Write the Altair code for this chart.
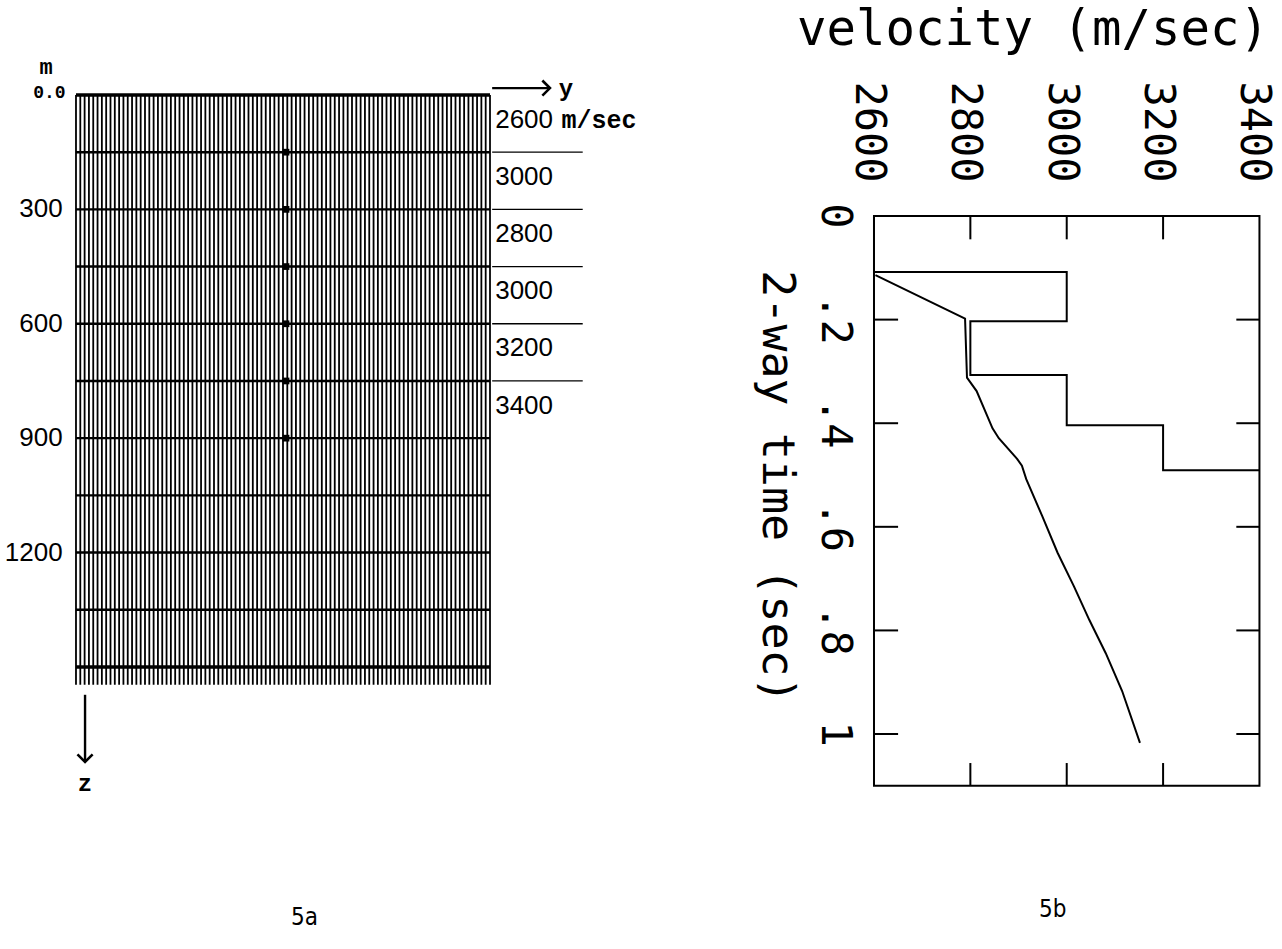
import altair as alt
import pandas as pd

# ---------------- data : panel 5a (model grid) ----------------
grid_columns = list(range(0, 97))                       # grid nodes in y direction
depth_lines = [0, 150, 300, 450, 600, 750, 900, 1050, 1200, 1350, 1500]
depth_tick_values = [300, 600, 900, 1200]
depth_tick_labels = ["300", "600", "900", "1200"]
layer_tops = [0, 150, 300, 450, 600, 750]
layer_bottoms = [150, 300, 450, 600, 750, 900]
layer_velocities = [2600, 3000, 2800, 3000, 3200, 3400]
interface_depths = [150, 300, 450, 600, 750]
receiver_depths = [150, 300, 450, 600, 750, 900]
receiver_column = 48.7

# ---------------- data : panel 5b (velocity vs time) ----------------
interval_velocity = [2600, 2600, 3000, 3000, 2800, 2800, 3000, 3000, 3200, 3200, 3400]
interval_time = [0.0, 0.108, 0.108, 0.203, 0.203, 0.307, 0.307, 0.404, 0.404, 0.491, 0.491]
rms_velocity = [2603, 2789, 2793, 2813, 2846, 2859, 2897, 2907, 2916, 2949, 2981, 3015, 3047, 3081, 3115, 3152]
rms_time = [0.114, 0.198, 0.312, 0.338, 0.410, 0.429, 0.469, 0.482, 0.508, 0.579, 0.650, 0.715, 0.780, 0.844, 0.917, 1.017]
velocity_ticks = [2600, 2800, 3000, 3200, 3400]
velocity_tick_labels = ["2600", "2800", "3000", "3200", "3400"]
time_ticks = [0.0, 0.2, 0.4, 0.6, 0.8, 1.0]
time_tick_labels = ["0", ".2", ".4", ".6", ".8", "1"]
time_max = 1.1

# ---------------- layout / style constants ----------------
LEFT_W, RIGHT_W, H = 740, 542, 949
INK = "black"
MONO = "DejaVu Sans Mono"
SANS = "Liberation Sans"
COURIER = "Liberation Mono"
CAPTION = "Liberation Sans Narrow, DejaVu Sans Condensed, Liberation Sans"

# panel 5a scales (grid units across, metres down)
xs_a = alt.Scale(domain=[-17.62, 153.97], nice=False, zero=False)
ys_a = alt.Scale(domain=[-249.1, 2239.7], nice=False, zero=False, reverse=True)
# panel 5b scales (m/s across, seconds down)
xs_b = alt.Scale(domain=[2321.9, 3446.8], nice=False, zero=False)
ys_b = alt.Scale(domain=[-0.417, 1.415], nice=False, zero=False, reverse=True)


def XA(f):
    return alt.X(f, type="quantitative", scale=xs_a, axis=None)


def YA(f):
    return alt.Y(f, type="quantitative", scale=ys_a, axis=None)


def XB(f):
    return alt.X(f, type="quantitative", scale=xs_b, axis=None)


def YB(f):
    return alt.Y(f, type="quantitative", scale=ys_b, axis=None)


# ======================= panel 5a =======================
ncol = grid_columns[-1]
vlines = pd.DataFrame({"u": grid_columns, "z0": 0, "z1": 1547})
v_layer = alt.Chart(vlines).mark_rule(color=INK, strokeWidth=1.8).encode(
    x=XA("u"), y=YA("z0"), y2="z1")

hl = pd.DataFrame({"z": depth_lines, "u0": 0, "u1": ncol,
                   "w": [3.4 if d in (depth_lines[0], depth_lines[-1]) else 2.4 for d in depth_lines]})
h_layer = alt.Chart(hl).mark_rule(color=INK).encode(
    x=XA("u0"), x2="u1", y=YA("z"),
    strokeWidth=alt.StrokeWidth("w:Q", scale=None, legend=None))

rec = pd.DataFrame({"u": receiver_column, "z": receiver_depths})
rec_layer = alt.Chart(rec).mark_square(color=INK, size=45, opacity=1).encode(x=XA("u"), y=YA("z"))

dlab = pd.DataFrame({"z": depth_tick_values, "t": depth_tick_labels, "u": -3.1})
dlab_layer = alt.Chart(dlab).mark_text(font=SANS, fontSize=26, align="right", baseline="middle",
                                       color=INK).encode(x=XA("u"), y=YA("z"), text="t:N")

top_lab = pd.DataFrame({"u": [-2.4, -5.4], "z": [-5, -74], "t": ["0.0", "m"],
                        "fs": [18, 22]})
top_layer = alt.Chart(top_lab).mark_text(font=COURIER, fontWeight="bold", align="right",
                                         baseline="middle", color=INK).encode(
    x=XA("u"), y=YA("z"), text="t:N", size=alt.Size("fs:Q", scale=None, legend=None))

# layer boundaries and velocity labels to the right of the grid
ib = pd.DataFrame({"z": interface_depths, "u0": 96.5, "u1": 117.5})
ib_layer = alt.Chart(ib).mark_rule(color=INK, strokeWidth=1.3).encode(x=XA("u0"), x2="u1", y=YA("z"))

vl = pd.DataFrame({"z": [(a + b) / 2 for a, b in zip(layer_tops, layer_bottoms)],
                   "t": [str(v) for v in layer_velocities], "u": 97.2})
vl_layer = alt.Chart(vl).mark_text(font=SANS, fontSize=26, align="left", baseline="middle",
                                   dy=-4, color=INK).encode(x=XA("u"), y=YA("z"), text="t:N")
unit_layer = alt.Chart(pd.DataFrame({"u": [112.6], "z": [(layer_tops[0] + layer_bottoms[0]) / 2],
                                     "t": ["m/sec"]})).mark_text(
    font=COURIER, fontWeight="bold", fontSize=25, align="left", baseline="middle", dy=-4,
    color=INK).encode(x=XA("u"), y=YA("z"), text="t:N")

# axis arrows
arr_y = alt.Chart(pd.DataFrame({"u0": [96.5], "u1": [109.6], "z": [-18]})).mark_rule(
    color=INK, strokeWidth=2.2).encode(x=XA("u0"), x2="u1", y=YA("z"))
arr_y_head = alt.Chart(pd.DataFrame({"u": [109.9], "z": [-18]})).mark_point(
    shape="M-1,-1L0,0L-1,1", filled=False, size=230, strokeWidth=2.6, color=INK, opacity=1).encode(
    x=XA("u"), y=YA("z"))
arr_z = alt.Chart(pd.DataFrame({"u": [2.1], "z0": [1573], "z1": [1746]})).mark_rule(
    color=INK, strokeWidth=2.4).encode(x=XA("u"), y=YA("z0"), y2="z1")
arr_z_head = alt.Chart(pd.DataFrame({"u": [2.1], "z": [1749]})).mark_point(
    shape="M-1,-1L0,0L1,-1", filled=False, size=230, strokeWidth=2.6, color=INK, opacity=1).encode(
    x=XA("u"), y=YA("z"))
axis_names = alt.Chart(pd.DataFrame({"u": [113.6, 2.1], "z": [-15, 1808], "t": ["y", "z"]})).mark_text(
    font=COURIER, fontWeight="bold", fontSize=24, align="center", baseline="middle", color=INK).encode(
    x=XA("u"), y=YA("z"), text="t:N")

cap_a = alt.Chart(pd.DataFrame({"u": [53.0], "z": [2158], "t": ["5a"]})).mark_text(
    font=CAPTION, fontSize=24, align="center", baseline="middle", color=INK).encode(
    x=XA("u"), y=YA("z"), text="t:N")

panel_a = alt.layer(v_layer, h_layer, rec_layer, dlab_layer, top_layer, ib_layer, vl_layer,
                    unit_layer, arr_y, arr_y_head, arr_z, arr_z_head, axis_names, cap_a).properties(
    width=LEFT_W, height=H)

# ======================= panel 5b =======================
frame = alt.Chart(pd.DataFrame({"v0": [velocity_ticks[0]], "v1": [velocity_ticks[-1]],
                                "t0": [0.0], "t1": [time_max]})).mark_rect(
    fillOpacity=0, stroke=INK, strokeWidth=2).encode(x=XB("v0"), x2="v1", y=YB("t0"), y2="t1")

inner_v = velocity_ticks[1:-1]
inner_t = time_ticks[1:]
tick_rows = []
for v in inner_v:
    tick_rows.append({"v0": v, "v1": v, "t0": 0.0, "t1": 0.045})
    tick_rows.append({"v0": v, "v1": v, "t0": time_max, "t1": time_max - 0.044})
for t in inner_t:
    tick_rows.append({"v0": velocity_ticks[0], "v1": velocity_ticks[0] + 50, "t0": t, "t1": t})
    tick_rows.append({"v0": velocity_ticks[-1], "v1": velocity_ticks[-1] - 48, "t0": t, "t1": t})
ticks = alt.Chart(pd.DataFrame(tick_rows)).mark_rule(color=INK, strokeWidth=2).encode(
    x=XB("v0"), x2="v1", y=YB("t0"), y2="t1")

iv = pd.DataFrame({"v": interval_velocity, "t": interval_time, "i": range(len(interval_time))})
iv_line = alt.Chart(iv).mark_line(color=INK, strokeWidth=2).encode(
    x=XB("v"), y=YB("t"), order="i:Q")
rv = pd.DataFrame({"v": rms_velocity, "t": rms_time, "i": range(len(rms_time))})
rv_line = alt.Chart(rv).mark_line(color=INK, strokeWidth=2).encode(
    x=XB("v"), y=YB("t"), order="i:Q")

# rotated labels: a positive dy moves them left on screen
vlab = pd.DataFrame({"v": velocity_ticks, "txt": velocity_tick_labels, "t": -0.162})
vlab_layer = alt.Chart(vlab).mark_text(font=MONO, fontSize=42, angle=90, align="center",
                                       baseline="middle", dy=5, color=INK).encode(
    x=XB("v"), y=YB("t"), text="txt:N")

tlab = pd.DataFrame({"t": time_ticks, "txt": time_tick_labels, "v": 2519})
tlab_layer = alt.Chart(tlab).mark_text(font=MONO, fontSize=42, angle=90, align="center",
                                       baseline="middle", color=INK).encode(
    x=XB("v"), y=YB("t"), text="txt:N")

vtitle = alt.Chart(pd.DataFrame({"v": [2930], "t": [-0.36], "txt": ["velocity (m/sec)"]})).mark_text(
    font=MONO, fontSize=49, align="center", baseline="middle", color=INK).encode(
    x=XB("v"), y=YB("t"), text="txt:N")
ttitle = alt.Chart(pd.DataFrame({"v": [2398], "t": [0.523], "txt": ["2-way time (sec)"]})).mark_text(
    font=MONO, fontSize=45, angle=90, align="center", baseline="middle", color=INK).encode(
    x=XB("v"), y=YB("t"), text="txt:N")

cap_b = alt.Chart(pd.DataFrame({"v": [2971], "t": [1.34], "txt": ["5b"]})).mark_text(
    font=CAPTION, fontSize=24, align="center", baseline="middle", color=INK).encode(
    x=XB("v"), y=YB("t"), text="txt:N")

panel_b = alt.layer(frame, ticks, iv_line, rv_line, vlab_layer, tlab_layer, vtitle, ttitle,
                    cap_b).properties(width=RIGHT_W, height=H)

chart = alt.hconcat(panel_a, panel_b, spacing=0).properties(
    padding=0, background="white").configure_view(strokeWidth=0)

chart.save("out.html", embed_options={"renderer": "svg", "actions": False})
